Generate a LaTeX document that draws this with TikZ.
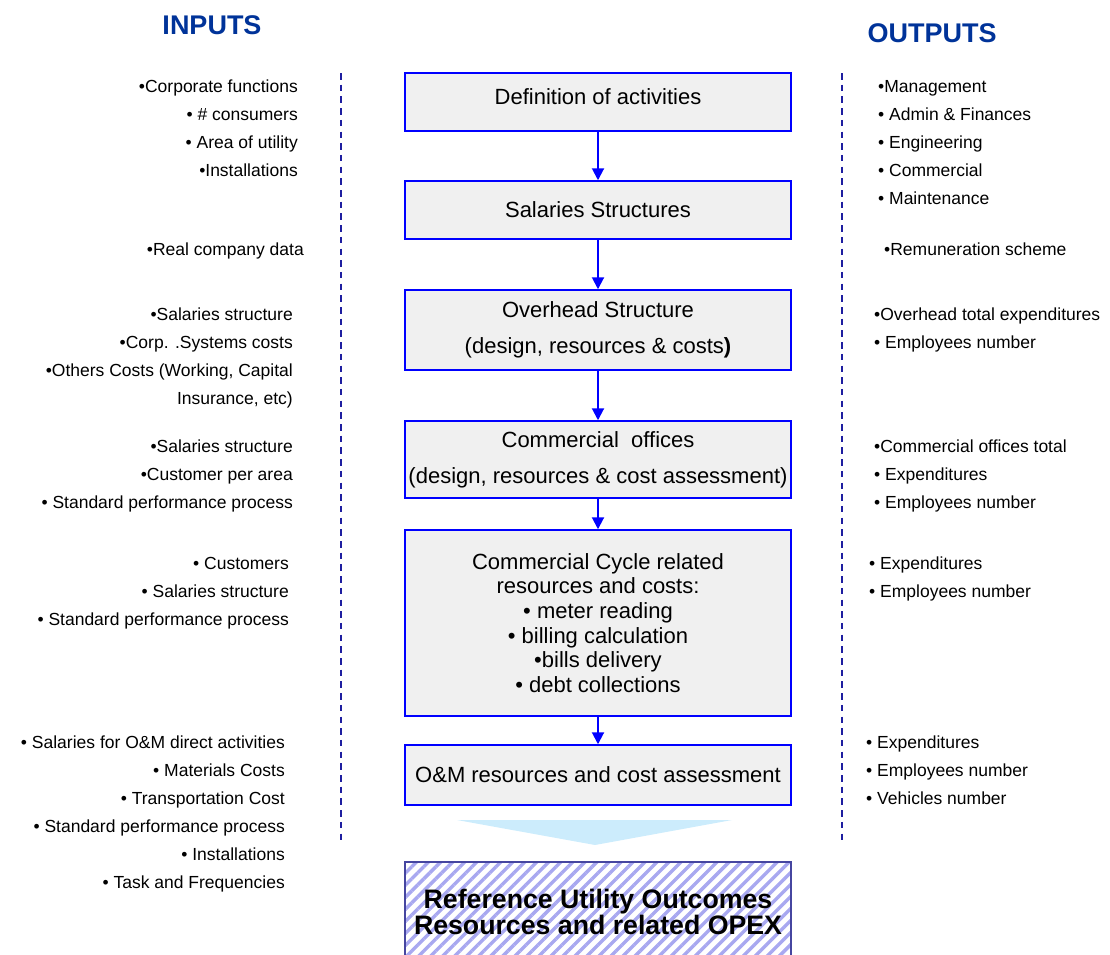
\documentclass[tikz,border=0pt]{standalone}
\usepackage{fontspec}
\setmainfont{Liberation Sans}
\usetikzlibrary{arrows.meta}
\usetikzlibrary{patterns.meta}

\definecolor{boxblue}{RGB}{0,0,255}
\definecolor{boxfill}{RGB}{240,240,240}
\definecolor{headblue}{RGB}{0,51,153}
\definecolor{dashblue}{RGB}{30,30,160}
\definecolor{chevblue}{RGB}{204,236,252}
\definecolor{hatchline}{RGB}{168,168,240}
\definecolor{hatchedge}{RGB}{70,70,160}

\begin{document}
\begin{tikzpicture}[x=1pt,y=-1pt]
  \tikzset{stage/.style = {shape=rectangle,draw=boxblue,fill=boxfill,line width=1.5pt,minimum width=386pt,inner sep=0pt,align=center,font=\fontsize{22}{36}\selectfont}}
  \tikzset{flow/.style = {draw=boxblue,line width=2pt,-{Triangle[length=12pt,width=12pt]}}}
  \tikzset{inlabel/.style = {anchor=base east,inner sep=0pt,font=\fontsize{17.5}{21}\selectfont}}
  \tikzset{outlabel/.style = {anchor=base west,inner sep=0pt,font=\fontsize{17.5}{21}\selectfont}}
  \tikzset{heading/.style = {text=headblue,inner sep=0pt,font=\fontsize{27}{30}\selectfont\bfseries}}
  \tikzset{divider/.style = {draw=dashblue,line width=2pt,dash pattern=on 6.5pt off 5.2pt}}

  \useasboundingbox (0,0) rectangle (1110,954);
  \clip (0,0) rectangle (1110,954);

  \node[heading] (inputs) at (212,25) {INPUTS};
  \node[heading] (outputs) at (932,33) {OUTPUTS};

  % dashed separators
  \coordinate (sepL1) at (341,73);
  \coordinate (sepL2) at (341,842);
  \coordinate (sepR1) at (842,73);
  \coordinate (sepR2) at (842,842);
  \draw[divider] (sepL1) -- (sepL2);
  \draw[divider] (sepR1) -- (sepR2);

  % process chain
  \node[stage,minimum height=58pt,text depth=10pt] (def) at (598,102) {Definition of activities};
  \node[stage,minimum height=58pt] (sal) at (598,210) {Salaries Structures};
  \node[stage,minimum height=80pt] (ovh) at (598,330) {Overhead Structure\\(design, resources \& costs\textbf{)}};
  \node[stage,minimum height=77pt] (com) at (598,459.5) {Commercial\ \ offices\\(design, resources \& cost assessment)};
  \node[stage,minimum height=186pt,font=\fontsize{22}{24.6}\selectfont] (cyc) at (598,623)
    {Commercial Cycle related\\resources and costs:\\• meter reading\\• billing calculation\\•bills delivery\\• debt collections};
  \node[stage,minimum height=60pt] (om) at (598,775) {O\&M resources and cost assessment};

  \foreach \from/\to in {def/sal, sal/ovh, ovh/com, com/cyc, cyc/om}
    \draw[flow] (\from) -- (\to);

  \fill[chevblue] (457,820) -- (732,820) -- (595,845) -- cycle;

  \node[shape=rectangle,draw=hatchedge,line width=2pt,pattern={Lines[angle=45,distance=8.5pt,line width=3.4pt]},pattern color=hatchline,
        minimum width=386pt,minimum height=100pt,inner sep=0pt,align=center,font=\fontsize{26.7}{25.5}\selectfont\bfseries] (outcome) at (598,912)
    {Reference Utility Outcomes\\Resources and related OPEX};

  % inputs
  \foreach \txt [count=\i] in {•Corporate functions, • \# consumers, • Area of utility, •Installations}
    \node[inlabel] (inA\i) at (298,64+28*\i) {\txt};
  \node[inlabel] (inB1) at (304,255) {•Real company data};
  \foreach \txt [count=\i] in {•Salaries structure, •Corp. .Systems costs, {•Others Costs (Working, Capital}, {Insurance, etc)}}
    \node[inlabel] (inC\i) at (293,292+28*\i) {\txt};
  \foreach \txt [count=\i] in {•Salaries structure, •Customer per area, • Standard performance process}
    \node[inlabel] (inD\i) at (293,424+28*\i) {\txt};
  \foreach \txt [count=\i] in {• Customers, • Salaries structure, • Standard performance process}
    \node[inlabel] (inE\i) at (289,541+28*\i) {\txt};
  \foreach \txt [count=\i] in {• Salaries for O\&M direct activities, • Materials Costs, • Transportation Cost, • Standard performance process, • Installations, • Task and Frequencies}
    \node[inlabel] (inF\i) at (285,720+28*\i) {\txt};

  % outputs
  \foreach \txt [count=\i] in {•Management, • Admin \& Finances, • Engineering, • Commercial, • Maintenance}
    \node[outlabel] (outA\i) at (878,64+28*\i) {\txt};
  \node[outlabel] (outB1) at (884,255) {•Remuneration scheme};
  \foreach \txt [count=\i] in {•Overhead total expenditures, • Employees number}
    \node[outlabel] (outC\i) at (874,292+28*\i) {\txt};
  \foreach \txt [count=\i] in {•Commercial offices total, • Expenditures, • Employees number}
    \node[outlabel] (outD\i) at (874,424+28*\i) {\txt};
  \foreach \txt [count=\i] in {• Expenditures, • Employees number}
    \node[outlabel] (outE\i) at (869,541+28*\i) {\txt};
  \foreach \txt [count=\i] in {• Expenditures, • Employees number, • Vehicles number}
    \node[outlabel] (outF\i) at (866,720+28*\i) {\txt};
\end{tikzpicture}
\end{document}
